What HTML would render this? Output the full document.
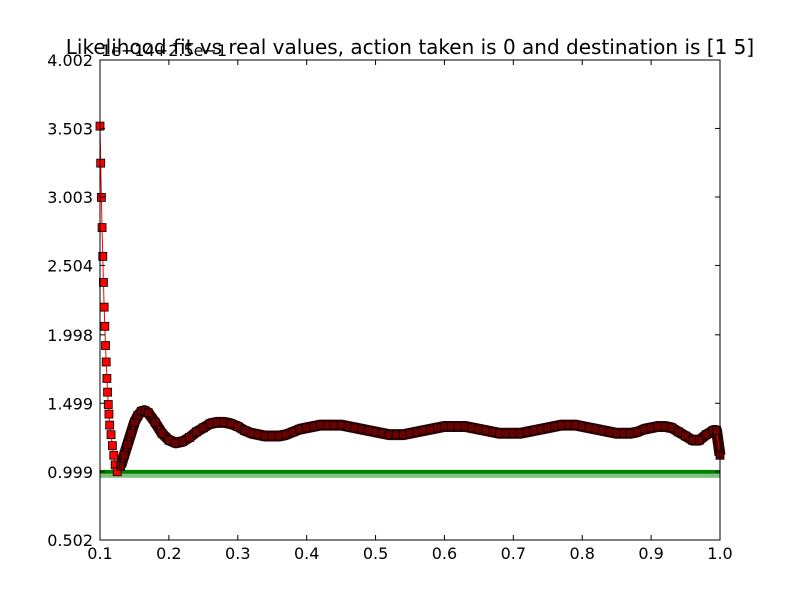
<!DOCTYPE html>
<html><head><meta charset="utf-8"><style>
body{margin:0;background:#fff}
svg text{font-family:"DejaVu Sans","Liberation Sans",sans-serif;font-size:16px;fill:#000}
</style></head><body>
<svg id="chart" width="800" height="600" viewBox="0 0 800 600" xmlns="http://www.w3.org/2000/svg">
<rect width="800" height="600" fill="#fff"/>
<g id="plot"></g>
<rect x="100" y="60" width="620" height="480" fill="none" stroke="#000" stroke-width="1"/>
<g id="axes"></g>
<text x="101" y="56" style="font-size:16px">1e−14+2.5e−1</text>
<text x="410" y="54" text-anchor="middle" style="font-size:20px">Likelihood fit vs real values, action taken is 0 and destination is [1 5]</text>
</svg>
<script>
const xTicks=[0.1,0.2,0.3,0.4,0.5,0.6,0.7,0.8,0.9,1.0];
const xTickLabels=["0.1","0.2","0.3","0.4","0.5","0.6","0.7","0.8","0.9","1.0"];
const yTicks=[0.502,0.999,1.499,1.998,2.504,3.003,3.503,4.002];
const yTickLabels=["0.502","0.999","1.499","1.998","2.504","3.003","3.503","4.002"];
const fitX=[0.100,0.101,0.102,0.103,0.104,0.105,0.106,0.107,0.108,0.109,0.110,0.111,0.112,0.113,0.114,0.116,0.118,0.120,0.122,0.125,0.13,0.135,0.14,0.145,0.15,0.155,0.16,0.165,0.17,0.18,0.19,0.20,0.21,0.22,0.23,0.24,0.25,0.26,0.27,0.28,0.29,0.30,0.31,0.32,0.33,0.34,0.35,0.36,0.37,0.38,0.39,0.40,0.41,0.42,0.43,0.44,0.45,0.46,0.47,0.48,0.49,0.50,0.51,0.52,0.53,0.54,0.55,0.56,0.57,0.58,0.59,0.60,0.61,0.62,0.63,0.64,0.65,0.66,0.67,0.68,0.69,0.70,0.71,0.72,0.73,0.74,0.75,0.76,0.77,0.78,0.79,0.80,0.81,0.82,0.83,0.84,0.85,0.86,0.87,0.88,0.89,0.90,0.91,0.92,0.93,0.94,0.95,0.96,0.97,0.98,0.99,0.995,1.0];
const fitY=[3.52,3.25,3.0,2.78,2.57,2.38,2.2,2.06,1.92,1.80,1.68,1.58,1.49,1.42,1.34,1.27,1.19,1.12,1.05,1.00,1.04,1.12,1.20,1.28,1.36,1.41,1.44,1.445,1.43,1.36,1.28,1.23,1.21,1.22,1.25,1.29,1.32,1.35,1.36,1.36,1.35,1.33,1.30,1.28,1.27,1.26,1.26,1.26,1.27,1.29,1.31,1.32,1.33,1.34,1.34,1.34,1.34,1.33,1.32,1.31,1.30,1.29,1.28,1.27,1.27,1.27,1.28,1.29,1.30,1.31,1.32,1.33,1.33,1.33,1.33,1.32,1.31,1.30,1.29,1.28,1.28,1.28,1.28,1.29,1.30,1.31,1.32,1.33,1.34,1.34,1.34,1.33,1.32,1.31,1.30,1.29,1.28,1.28,1.28,1.29,1.31,1.32,1.33,1.33,1.32,1.29,1.26,1.23,1.23,1.27,1.30,1.30,1.12];
const realX=[0.1,1.0];
const realY=[0.999,0.999];
const NS="http://www.w3.org/2000/svg";
const sx=v=>100+(v-0.1)/0.9*620;
const sy=v=>540-(v-0.502)/3.5*480;
function mk(tag,at){const e=document.createElementNS(NS,tag);for(const k in at)e.setAttribute(k,at[k]);return e;}
const plot=document.getElementById('plot'),axes=document.getElementById('axes');
const gl=mk('polyline',{points:realX.map((x,i)=>sx(x)+','+sy(realY[i])).join(' '),fill:'none',stroke:'#008000','stroke-width':4});


plot.appendChild(gl);
const gb=mk('rect',{x:sx(realX[0]),y:sy(realY[0])+2,width:sx(realX[1])-sx(realX[0]),height:4,fill:'#7fc07f'});


plot.appendChild(gb);
const dark=mk('polyline',{points:fitX.map((x,i)=>x>=0.13?sx(x)+','+sy(fitY[i]):null).filter(Boolean).join(' '),fill:'none',stroke:'#3a0000','stroke-width':11,'stroke-linejoin':'round'});


plot.appendChild(dark);
const fl=mk('polyline',{points:fitX.map((x,i)=>sx(x)+','+sy(fitY[i])).join(' '),fill:'none',stroke:'#f00','stroke-width':1});


plot.appendChild(fl);
fitX.forEach((x,i)=>{
 const r=mk('rect',{x:sx(x)-4,y:sy(fitY[i])-4,width:8,height:8,fill:x>=0.13?'#6a0000':'#f00',stroke:'#000','stroke-width':0.8});
 
 
 plot.appendChild(r);
});
xTicks.forEach((v,i)=>{
 const x=sx(v);
 axes.appendChild(mk('line',{x1:x,y1:540,x2:x,y2:535,stroke:'#000'}));
 axes.appendChild(mk('line',{x1:x,y1:60,x2:x,y2:65,stroke:'#000'}));
 const t=mk('text',{x:x,y:559,'text-anchor':'middle'});t.textContent=xTickLabels[i];
 
 
 axes.appendChild(t);
});
yTicks.forEach((v,i)=>{
 const y=sy(v);
 axes.appendChild(mk('line',{x1:100,y1:y,x2:105,y2:y,stroke:'#000'}));
 axes.appendChild(mk('line',{x1:720,y1:y,x2:715,y2:y,stroke:'#000'}));
 const t=mk('text',{x:93,y:y+6,'text-anchor':'end'});t.textContent=yTickLabels[i];
 
 
 axes.appendChild(t);
});
</script>
</body></html>
